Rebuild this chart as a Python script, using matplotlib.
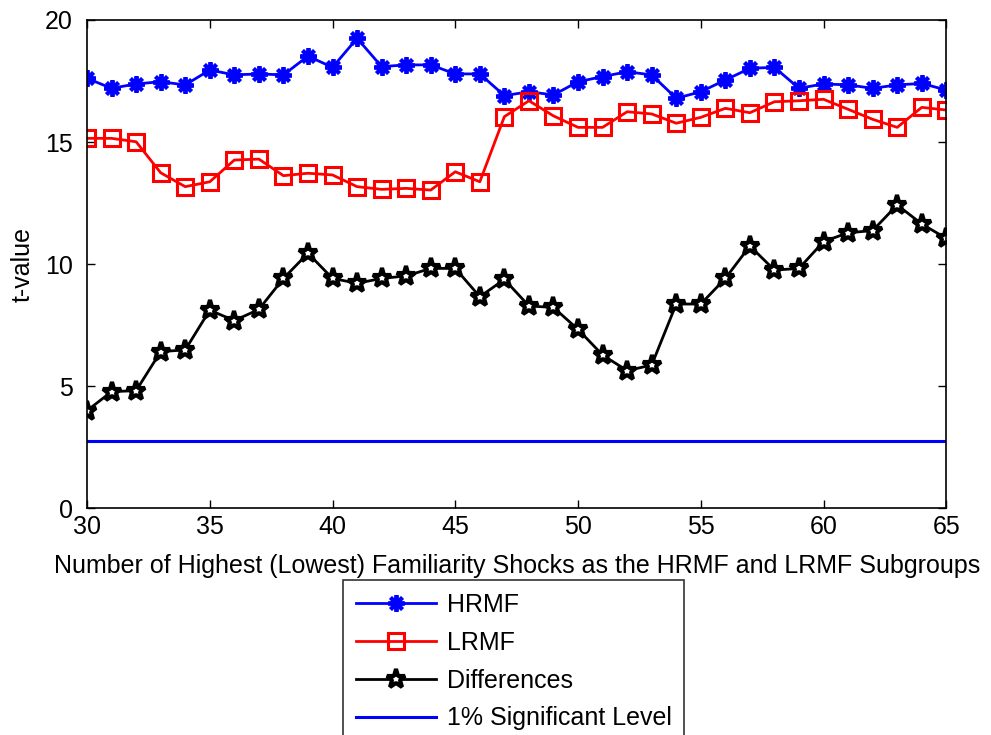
import numpy as np
import matplotlib.pyplot as plt

plt.rcParams["font.family"] = ["Liberation Sans", "DejaVu Sans"]

# Subgroup size (number of highest / lowest familiarity shocks)
n_shocks = np.arange(30, 66)

hrmf = [17.61, 17.20, 17.38, 17.47, 17.34, 17.95, 17.75, 17.79, 17.75, 18.52,
        18.06, 19.25, 18.09, 18.16, 18.16, 17.79, 17.79, 16.90, 17.06, 16.93,
        17.47, 17.68, 17.88, 17.75, 16.79, 17.06, 17.54, 18.02, 18.06, 17.20,
        17.38, 17.34, 17.20, 17.34, 17.40, 17.13]

lrmf = [15.15, 15.15, 15.01, 13.74, 13.17, 13.37, 14.26, 14.30, 13.62, 13.72,
        13.65, 13.17, 13.06, 13.10, 13.03, 13.78, 13.37, 16.04, 16.69, 16.07,
        15.60, 15.60, 16.24, 16.15, 15.77, 16.01, 16.38, 16.20, 16.65, 16.69,
        16.75, 16.34, 15.93, 15.60, 16.42, 16.31]

diffs = [3.99, 4.77, 4.81, 6.41, 6.48, 8.11, 7.68, 8.14, 9.41, 10.44,
         9.41, 9.21, 9.41, 9.51, 9.82, 9.82, 8.66, 9.37, 8.28, 8.22,
         7.32, 6.27, 5.63, 5.86, 8.36, 8.36, 9.41, 10.74, 9.75, 9.82,
         10.92, 11.28, 11.37, 12.42, 11.64, 11.05]

sig_level = 2.76

fig = plt.figure(figsize=(9.91, 7.35), dpi=100)
ax = fig.add_axes([0.0878, 0.3088, 0.8671, 0.6640])

ax.plot(n_shocks, hrmf, color="#0000ff", lw=2, marker=(8, 2, 0),
        markersize=12, markeredgewidth=2.8, label="HRMF")
ax.plot(n_shocks, lrmf, color="#ff0000", lw=2, marker="s", markersize=11,
        markerfacecolor="none", markeredgewidth=2.2, label="LRMF")
ax.plot(n_shocks, diffs, color="black", lw=2, marker="*", markersize=14,
        markerfacecolor="white", markeredgewidth=3, label="Differences")
ax.plot([n_shocks[0], n_shocks[-1]], [sig_level, sig_level], color="#0000ff",
        lw=2.2, label="1% Significant Level")

ax.set_xlim(30, 65)
ax.set_ylim(0, 20)
ax.set_xticks(range(30, 66, 5))
ax.set_yticks(range(0, 21, 5))
ax.tick_params(direction="in", top=True, right=True, length=6, width=1,
               labelsize=18)
ax.tick_params(axis="x", pad=5)
ax.tick_params(axis="y", pad=10)
for s in ax.spines.values():
    s.set_linewidth(1.2)

ax.set_xlabel("Number of Highest (Lowest) Familiarity Shocks as the HRMF and LRMF Subgroups",
              fontsize=18, labelpad=11)
ax.set_ylabel("t-value", fontsize=18, labelpad=8)

leg = fig.legend(loc="upper left", bbox_to_anchor=(343 / 991, 1 - 580 / 735),
                 fontsize=18, frameon=True, fancybox=False, edgecolor="black",
                 handlelength=3.2, labelspacing=0.56, borderpad=0.5,
                 handletextpad=0.45, borderaxespad=0)
leg.get_frame().set_linewidth(1.2)

fig.savefig("out.png", dpi=100)
